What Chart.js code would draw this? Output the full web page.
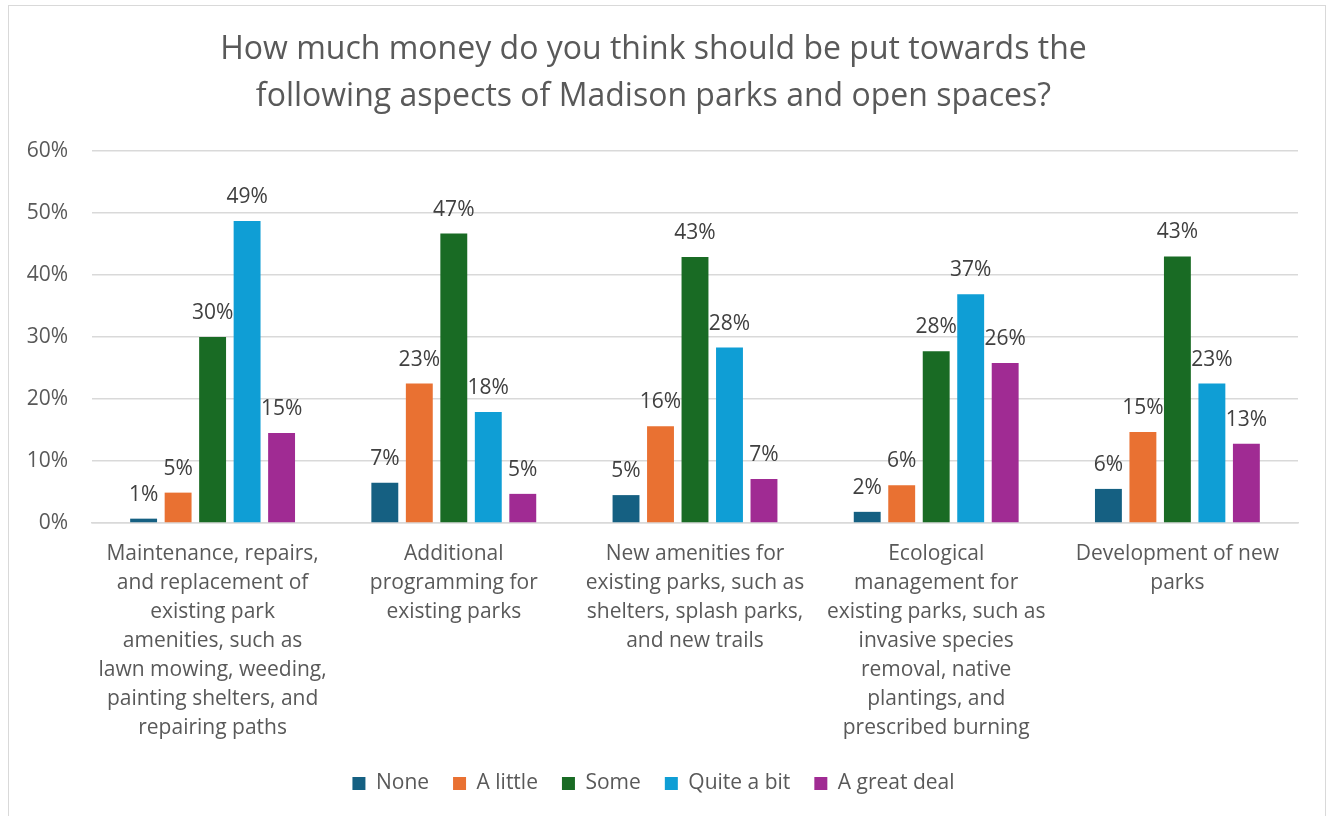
<!DOCTYPE html>
<html>
<head>
<meta charset="utf-8">
<script src="https://cdn.jsdelivr.net/npm/chart.js@4.4.1/dist/chart.umd.min.js"></script>
<style>
  html, body { margin: 0; padding: 0; background: #fff; overflow: hidden; }
  #wrap {
    position: absolute; left: 8px; top: 5px;
    width: 1316px; height: 811px;
    border: 1px solid #d9d9d9; border-bottom: none;
  }
  canvas { display: block; }
</style>
</head>
<body>
<div id="wrap"><canvas id="chart" width="1316" height="811"></canvas></div>
<script>
// Categories (already wrapped the way the original shows them)
const categories = [
  ['Maintenance, repairs,', 'and replacement of', 'existing park', 'amenities, such as', 'lawn mowing, weeding,', 'painting shelters, and', 'repairing paths'],
  ['Additional', 'programming for', 'existing parks'],
  ['New amenities for', 'existing parks, such as', 'shelters, splash parks,', 'and new trails'],
  ['Ecological', 'management for', 'existing parks, such as', 'invasive species', 'removal, native', 'plantings, and', 'prescribed burning'],
  ['Development of new', 'parks'],
];

const seriesNames = ['None', 'A little', 'Some', 'Quite a bit', 'A great deal'];
const seriesColors = ['#156082', '#E97132', '#196B24', '#0F9ED5', '#A02B93'];

// percent of respondents, per category
const none       = [0.7, 6.5, 4.5, 1.8, 5.5];
const aLittle    = [4.9, 22.5, 15.6, 6.1, 14.7];
const some       = [30.0, 46.7, 42.9, 27.7, 43.0];
const quiteABit  = [48.7, 17.9, 28.3, 36.9, 22.5];
const greatDeal  = [14.5, 4.7, 7.1, 25.8, 12.8];

const yTicks = [0, 10, 20, 30, 40, 50, 60];

const FONT = "'Open Sans', 'Liberation Sans', sans-serif";

const barLabels = {
  id: 'barLabels',
  afterDatasetsDraw(chart) {
    const ctx = chart.ctx;
    ctx.save();
    ctx.font = `21px ${FONT}`;
    ctx.fillStyle = '#404040';
    ctx.textAlign = 'center';
    ctx.textBaseline = 'alphabetic';
    chart.data.datasets.forEach((ds, i) => {
      const meta = chart.getDatasetMeta(i);
      meta.data.forEach((bar, j) => {
        ctx.fillText(Math.round(ds.data[j]) + '%', bar.x, bar.y - 18);
      });
    });
    ctx.restore();
  }
};

const datasets = [none, aLittle, some, quiteABit, greatDeal].map((d, i) => ({
  label: seriesNames[i],
  data: d,
  backgroundColor: seriesColors[i],
  borderWidth: 0,
  categoryPercentage: 0.715,
  barPercentage: 0.78,
}));

new Chart(document.getElementById('chart'), {
  type: 'bar',
  data: { labels: categories, datasets },
  plugins: [barLabels],
  options: {
    responsive: false,
    animation: false,
    layout: { padding: { left: 0, right: 27, top: 0, bottom: 13 } },
    plugins: {
      title: {
        display: true,
        text: ['How much money do you think should be put towards the',
               'following aspects of Madison parks and open spaces?'],
        color: '#595959',
        font: { family: FONT, size: 32, weight: 'normal', lineHeight: 1.47 },
        padding: { top: 20, bottom: 31 },
      },
      legend: {
        position: 'bottom',
        labels: {
          color: '#595959',
          font: { family: FONT, size: 21 },
          boxWidth: 13, boxHeight: 13,
          padding: 24,
        },
      },
      tooltip: { enabled: false },
    },
    scales: {
      x: {
        grid: { display: false, drawTicks: false },
        border: { display: true, color: '#d9d9d9', width: 1.5 },
        ticks: {
          color: '#595959',
          font: { family: FONT, size: 21, lineHeight: 1.38 },
          padding: 17,
          maxRotation: 0, autoSkip: false,
        },
        afterFit(scale) { scale.height = 226; },
      },
      y: {
        min: 0, max: 60,
        afterBuildTicks(scale) { scale.ticks = yTicks.map(v => ({ value: v })); },
        grid: { color: '#d9d9d9', lineWidth: 1.5, drawTicks: false },
        border: { display: false },
        ticks: {
          color: '#595959',
          font: { family: FONT, size: 21 },
          padding: 24,
          callback: v => v + '%',
        },
        afterFit(scale) { scale.width = 83; },
      },
    },
  },
});
</script>
</body>
</html>
